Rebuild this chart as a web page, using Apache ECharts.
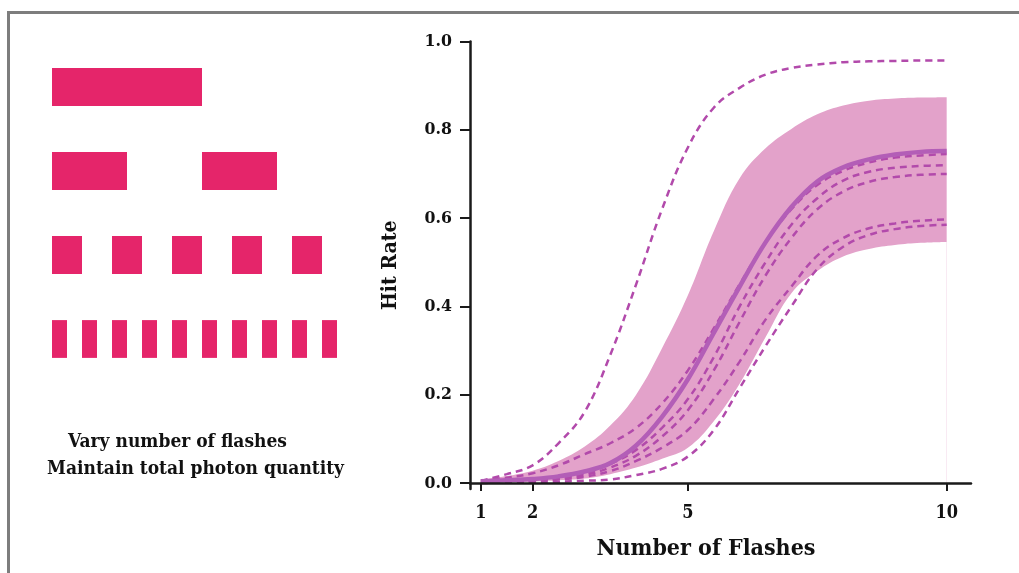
<!DOCTYPE html>
<html>
<head>
<meta charset="utf-8">
<style>
  html, body { margin: 0; padding: 0; background: #fff; }
  #frame {
    position: absolute; left: 7px; top: 11px; width: 1012px; height: 562px;
    border-top: 3px solid #7d7d7d; border-left: 3px solid #7d7d7d; box-sizing: border-box;
  }
  #main { position: absolute; left: 0; top: 0; width: 1019px; height: 573px; }
</style>
<script src="https://cdn.jsdelivr.net/npm/echarts@6/dist/echarts.min.js"></script>
</head>
<body>
<div id="frame"></div>
<div id="main"></div>
<script>
// flash trains (left panel): start times and flash length per row, same total light
const flashRows = ['1', '2', '5', '10']
const flashStarts = [
  [0],
  [0, 5],
  [0, 2, 4, 6, 8],
  [0, 1, 2, 3, 4, 5, 6, 7, 8, 9]
]
const flashWidths = [5, 2.5, 1, 0.5]

// hit rate curves (right panel)
const flashes = [1, 1.5, 2, 2.5, 3, 3.5, 4, 4.5, 5, 5.5, 6, 6.5, 7, 7.5, 8, 8.5, 9, 9.5, 10]
const meanRate = [0.004, 0.006, 0.009, 0.015, 0.026, 0.045, 0.085, 0.15, 0.235, 0.34, 0.445, 0.545, 0.625, 0.683, 0.715, 0.733, 0.744, 0.75, 0.752]
const bandUpper = [0.008, 0.016, 0.028, 0.05, 0.082, 0.13, 0.2, 0.305, 0.425, 0.57, 0.69, 0.758, 0.802, 0.835, 0.855, 0.866, 0.871, 0.873, 0.874]
const bandLower = [0.001, 0.002, 0.003, 0.006, 0.01, 0.02, 0.035, 0.055, 0.08, 0.14, 0.225, 0.33, 0.43, 0.48, 0.513, 0.53, 0.539, 0.544, 0.546]
const subjects = [
  [0.005, 0.02, 0.04, 0.09, 0.16, 0.29, 0.45, 0.62, 0.76, 0.85, 0.895, 0.925, 0.94, 0.948, 0.953, 0.955, 0.956, 0.957, 0.957],
  [0.005, 0.012, 0.022, 0.04, 0.065, 0.09, 0.125, 0.18, 0.255, 0.35, 0.45, 0.545, 0.62, 0.675, 0.707, 0.726, 0.737, 0.742, 0.745],
  [0.002, 0.004, 0.007, 0.013, 0.022, 0.043, 0.075, 0.125, 0.19, 0.285, 0.4, 0.5, 0.585, 0.645, 0.685, 0.705, 0.714, 0.718, 0.72],
  [0.002, 0.003, 0.006, 0.01, 0.018, 0.035, 0.062, 0.105, 0.165, 0.255, 0.365, 0.47, 0.555, 0.62, 0.66, 0.682, 0.693, 0.698, 0.7],
  [0.001, 0.002, 0.004, 0.008, 0.014, 0.027, 0.05, 0.08, 0.12, 0.19, 0.275, 0.37, 0.445, 0.515, 0.555, 0.577, 0.588, 0.594, 0.597],
  [0.0, 0.001, 0.002, 0.003, 0.005, 0.008, 0.018, 0.032, 0.06, 0.12, 0.215, 0.31, 0.4, 0.485, 0.535, 0.562, 0.575, 0.582, 0.585]
]
const xTicks = [1, 2, 5, 10]
const yTicks = [0, 0.2, 0.4, 0.6, 0.8, 1.0]

const serif = '"DejaVu Serif Condensed", "DejaVu Serif", serif'
const pairs = arr => flashes.map((x, i) => [x, arr[i]])

const flashData = []
flashStarts.forEach((starts, row) => {
  starts.forEach(s => flashData.push([s, row, flashWidths[row]]))
})

const chart = echarts.init(document.getElementById('main'))

const series = [
  {
    type: 'custom',
    xAxisIndex: 1,
    yAxisIndex: 1,
    data: flashData,
    renderItem(params, api) {
      const p0 = api.coord([api.value(0), api.value(1)])
      const p1 = api.coord([api.value(0) + api.value(2), api.value(1)])
      const h = api.size([0, 1])[1] * 0.45
      return {
        type: 'rect',
        shape: { x: p0[0], y: p0[1] - h / 2, width: p1[0] - p0[0], height: h },
        style: { fill: '#e5256a' }
      }
    }
  },
  // band: pink area under the upper edge, then white area under the lower edge
  {
    name: 'upper',
    type: 'line',
    smooth: 0.4,
    symbol: 'none',
    lineStyle: { width: 0, opacity: 0 },
    areaStyle: { color: '#e3a2ca', opacity: 1, origin: 0 },
    data: pairs(bandUpper)
  },
  {
    name: 'lower',
    type: 'line',
    smooth: 0.4,
    symbol: 'none',
    lineStyle: { width: 0, opacity: 0 },
    areaStyle: { color: '#ffffff', opacity: 1, origin: 0 },
    data: pairs(bandLower)
  }
]

subjects.forEach(s => {
  series.push({
    type: 'line',
    smooth: 0.4,
    symbol: 'none',
    lineStyle: { color: '#b24aab', width: 2.5, type: [7, 5] },
    data: pairs(s)
  })
})

series.push({
  name: 'mean',
  type: 'line',
  smooth: 0.4,
  symbol: 'none',
  lineStyle: { color: '#b35eb7', width: 4.5 },
  data: pairs(meanRate)
})

chart.setOption({
  animation: false,
  grid: [
    { left: 470, right: 48, top: 41.5, bottom: 84 },
    { left: 52, width: 300, top: 45, height: 336 }
  ],
  xAxis: [
    {
      type: 'value',
      z: 10,
      min: 0.79,
      max: 10.47,
      splitLine: { show: false },
      axisLine: { show: true, lineStyle: { color: '#1a1a1a', width: 2.5 } },
      axisTick: { show: true, customValues: xTicks, length: 8, lineStyle: { color: '#1a1a1a', width: 2 } },
      axisLabel: {
        customValues: xTicks,
        formatter: v => String(v),
        margin: 15,
        color: '#111',
        fontFamily: serif,
        fontWeight: 'bold',
        fontSize: 18
      },
      name: 'Number of Flashes',
      nameLocation: 'middle',
      nameGap: 49,
      nameTextStyle: { color: '#111', fontFamily: serif, fontWeight: 'bold', fontSize: 23, padding: [0, 29, 0, 0] }
    },
    { type: 'value', gridIndex: 1, min: 0, max: 10, show: false }
  ],
  yAxis: [
    {
      type: 'value',
      z: 10,
      min: -0.0136,
      max: 1,
      splitLine: { show: false },
      axisLine: { show: true, lineStyle: { color: '#1a1a1a', width: 2.5 } },
      axisTick: { show: true, customValues: yTicks, length: 10, lineStyle: { color: '#1a1a1a', width: 2 } },
      axisLabel: {
        customValues: yTicks,
        formatter: v => v.toFixed(1),
        margin: 18,
        color: '#111',
        fontFamily: serif,
        fontWeight: 'bold',
        fontSize: 17.5
      },
      name: 'Hit Rate',
      nameLocation: 'middle',
      nameGap: 69,
      nameTextStyle: { color: '#111', fontFamily: serif, fontWeight: 'bold', fontSize: 21 }
    },
    { type: 'category', gridIndex: 1, data: flashRows, inverse: true, show: false }
  ],
  graphic: [
    {
      type: 'text', left: 68, top: 433,
      style: { text: 'Vary number of flashes', fill: '#111', font: 'bold 19px "DejaVu Serif Condensed", "DejaVu Serif"' }
    },
    {
      type: 'text', left: 47, top: 460,
      style: { text: 'Maintain total photon quantity', fill: '#111', font: 'bold 19px "DejaVu Serif Condensed", "DejaVu Serif"' }
    }
  ],
  series: series
})
</script>
</body>
</html>
